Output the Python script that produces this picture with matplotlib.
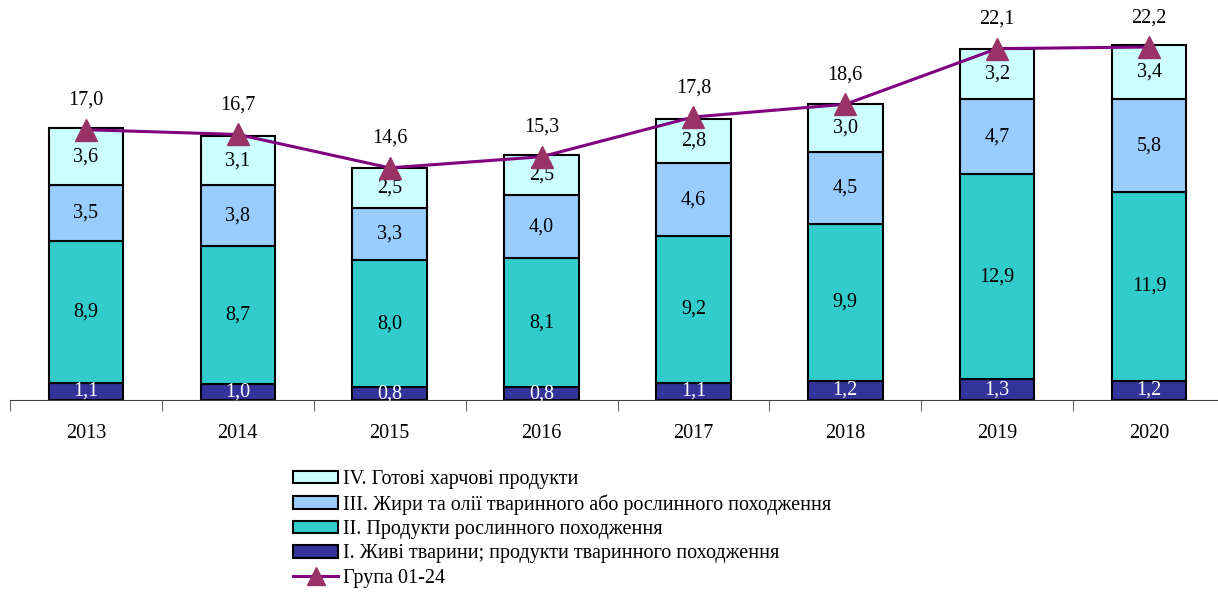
import numpy as np
import matplotlib.pyplot as plt
from matplotlib.patches import Patch
from matplotlib.lines import Line2D

plt.rcParams['font.family'] = ['Liberation Serif', 'DejaVu Serif']

years = ['2013', '2014', '2015', '2016', '2017', '2018', '2019', '2020']
grp1 = [1.1, 1.0, 0.8, 0.8, 1.1, 1.2, 1.3, 1.2]
grp2 = [8.9, 8.7, 8.0, 8.1, 9.2, 9.9, 12.9, 11.9]
grp3 = [3.5, 3.8, 3.3, 4.0, 4.6, 4.5, 4.7, 5.8]
grp4 = [3.6, 3.1, 2.5, 2.5, 2.8, 3.0, 3.2, 3.4]
total = [17.0, 16.7, 14.6, 15.3, 17.8, 18.6, 22.1, 22.2]

labels = ['I. Живі тварини; продукти тваринного походження',
          'II. Продукти рослинного походження',
          'III. Жири та олії тваринного або рослинного походження',
          'IV. Готові харчові продукти']
colors = ['#333399', '#33cccc', '#99ccff', '#ccffff']
text_colors = ['white', 'black', 'black', 'black']
fs = 14.5

W, H = 1218, 592
fig = plt.figure(figsize=(W / 100, H / 100), dpi=100)
# baseline at y=400 px, axes run a little past the right edge
ax = fig.add_axes([10 / W, (H - 400) / H, 1215 / W, 400 / H])

x = np.arange(len(years))
bottom = np.zeros(len(years))
for vals, col, tc in zip([grp1, grp2, grp3, grp4], colors, text_colors):
    ax.bar(x, vals, 0.49, bottom=bottom, color=col, edgecolor='black', linewidth=1.5, zorder=2)
    for xi, b, v in zip(x, bottom, vals):
        ax.text(xi, b + v / 2, f'{v:.1f}'.replace('.', ','), ha='center', va='center',
                color=tc, fontsize=fs, zorder=3)
    bottom += np.array(vals)

ax.plot(x, total, color='#800080', linewidth=2.2, marker='^', markersize=16,
        markerfacecolor='#993366', markeredgecolor='#993366', zorder=4)
for xi, t in zip(x, total):
    ax.text(xi, t + 1.85, f'{t:.1f}'.replace('.', ','), ha='center', va='center', fontsize=fs)

ax.set_xlim(-0.5, len(years) - 0.5)
ax.set_ylim(0, 400 / 15.9)
for s in ['left', 'right', 'top']:
    ax.spines[s].set_visible(False)
ax.spines['bottom'].set_color('#444444')
ax.set_yticks([])
ax.set_xticks(x)
ax.set_xticklabels(years, fontsize=fs)
ax.tick_params(axis='x', length=0, pad=17)
ax.set_xticks(np.arange(len(years) + 1) - 0.5, minor=True)
ax.tick_params(axis='x', which='minor', length=8, color='#444444', direction='out')

handles = [Patch(facecolor=colors[i], edgecolor='black', linewidth=1.5, label=labels[i])
           for i in [3, 2, 1, 0]]
handles.append(Line2D([0], [0], color='#800080', linewidth=2.2, marker='^', markersize=13,
                      markerfacecolor='#993366', markeredgecolor='#993366', label='Група 01-24'))
fig.legend(handles=handles, loc='upper left', bbox_to_anchor=(283 / W, 1 - 460 / H),
           frameon=False, fontsize=fs, handlelength=2.25, handleheight=0.6,
           labelspacing=0.26, handletextpad=0.25, borderpad=0)

fig.savefig('out.png', dpi=100)
